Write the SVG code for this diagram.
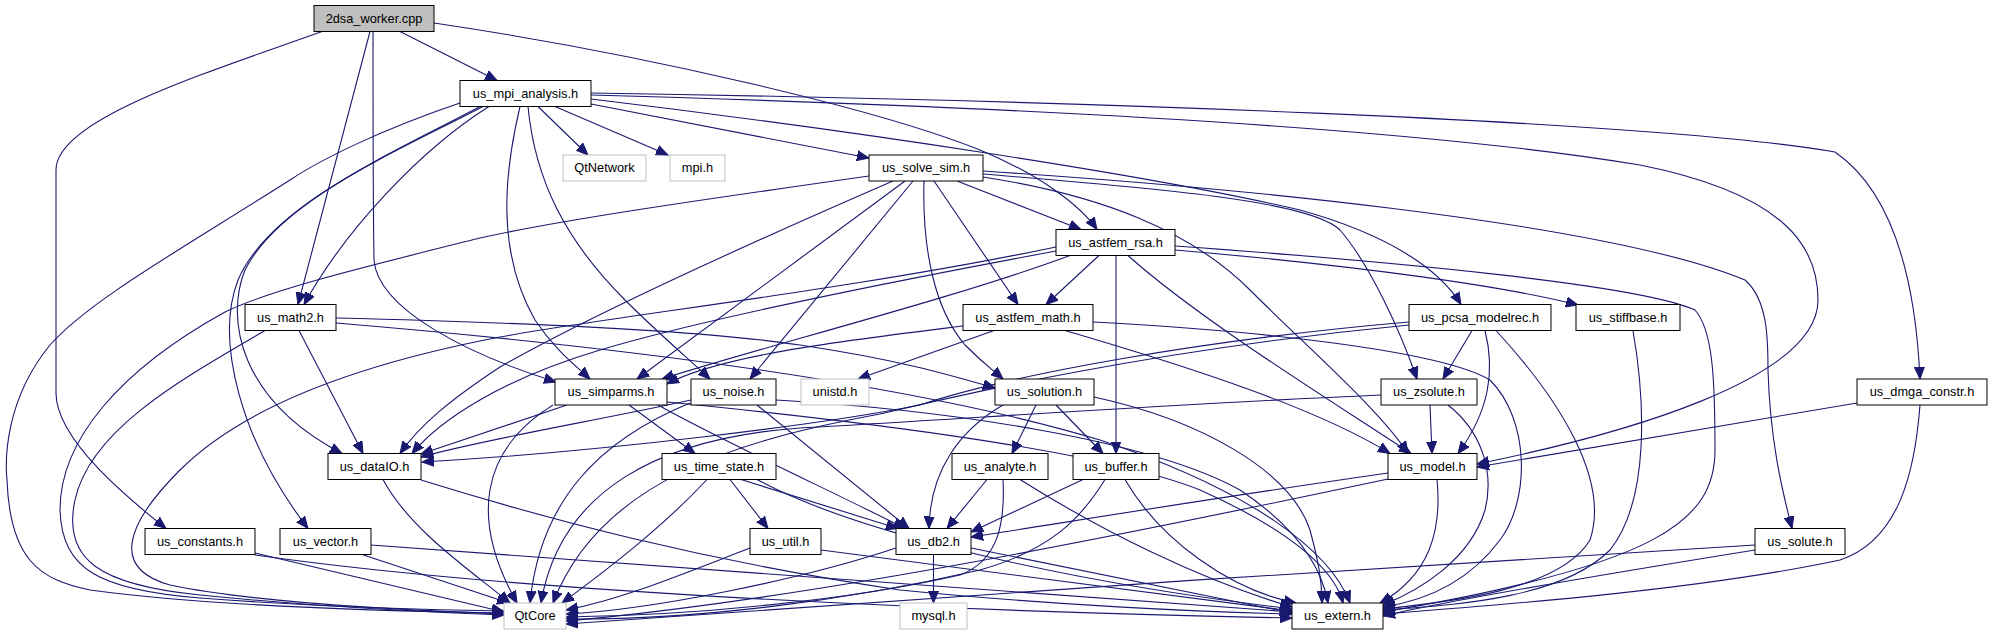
<svg xmlns="http://www.w3.org/2000/svg" width="1992" height="635" viewBox="0 0 1992 635">
<style>
.n rect{fill:#ffffff;stroke:#000000;stroke-width:1}
.n.x rect{stroke:#bfbfbf}
.n.r rect{fill:#bfbfbf}
.n text{font-family:"Liberation Sans",Arial,sans-serif;font-size:12.8px;text-anchor:middle;fill:#000000}
#edges path{fill:none;stroke:#191970;stroke-width:1.1;marker-end:url(#ah)}
</style>
<defs>
<marker id="ah" markerUnits="userSpaceOnUse" markerWidth="13" markerHeight="11" viewBox="0 0 13 11" refX="12" refY="5.5" orient="auto">
<path d="M0,0.5 L12,5.5 L0,10.5 z" fill="#191970" stroke="#191970" stroke-width="1"/>
</marker>
</defs>
<rect width="1992" height="635" fill="#ffffff"/>
<g id="edges">
<path d="M400,31.5 L497,80.5"/>
<path d="M370,31.5 L298,304.5"/>
<path d="M373,31.5 C373,110 373,200 374,260 C378,310 470,355 556,382"/>
<path d="M322,31.5 C200,75 56,120 56,170 L56,393 C56,440 130,500 166,528.5"/>
<path d="M434,23 C650,55 880,110 980,150 C1040,175 1080,205 1097,229.5"/>
<path d="M538,106.5 L588,155"/>
<path d="M555,106.5 L668,155"/>
<path d="M591,104 L869,158"/>
<path d="M489,106.5 C420,150 345,230 304,304.5"/>
<path d="M520,106.5 C505,170 495,250 535,320 C555,350 575,365 590,379"/>
<path d="M528,106.5 C535,180 565,240 625,300 C660,335 690,360 710,379"/>
<path d="M483,106.5 C400,150 280,200 245,270 C225,320 240,400 342,453.5"/>
<path d="M480,106.5 C395,152 270,205 238,280 C215,340 240,440 308,528.5"/>
<path d="M460,103 C380,130 320,160 290,180 C180,250 90,300 50,345 C5,400 5,460 7,480 C10,560 40,580 90,590 C200,605 380,611 504,613"/>
<path d="M591,99 C850,130 1150,175 1300,210 C1390,235 1440,270 1461,304.5"/>
<path d="M591,95 C950,105 1400,125 1640,165 C1790,195 1818,250 1818,300 C1818,380 1620,435 1477,464"/>
<path d="M591,93 C1050,100 1650,120 1835,152 C1890,190 1915,270 1920,379"/>
<path d="M957,181 L1081,229.5"/>
<path d="M934,181 L1018,304.5"/>
<path d="M924,181 C922,250 935,310 965,345 C985,365 995,372 1003,379"/>
<path d="M913,181 L750,379"/>
<path d="M905,181 L637,379"/>
<path d="M893,181 C780,230 600,310 500,367 C450,400 420,425 400,453.5"/>
<path d="M869,176 C700,200 560,220 480,238 C360,268 270,290 225,312 C120,370 60,440 60,510 C62,570 100,590 200,598 C320,607 430,610 504,611"/>
<path d="M983,177 C1100,195 1190,230 1250,290 C1310,350 1380,410 1408,453.5"/>
<path d="M983,174 C1150,188 1310,200 1340,230 C1370,265 1400,330 1417,379"/>
<path d="M983,171 C1200,185 1600,220 1745,280 C1768,300 1768,340 1768,370 C1770,440 1782,490 1792,528.5"/>
<path d="M1099,255.5 L1046,304.5"/>
<path d="M1116,255.5 L1116,453.5"/>
<path d="M1128,255.5 C1200,320 1330,400 1411,453.5"/>
<path d="M1175,246 C1400,262 1640,285 1695,310 C1713,330 1715,380 1715,450 C1715,520 1660,565 1383,612"/>
<path d="M1175,250 C1350,265 1500,285 1578,305"/>
<path d="M1056,247 C850,290 620,315 500,337 C380,360 250,400 180,470 C120,530 115,570 170,585 C250,602 400,610 504,614"/>
<path d="M1056,251 C900,280 700,320 600,350 C500,380 440,420 412,453.5"/>
<path d="M1070,255.5 C950,300 750,350 662,379"/>
<path d="M963,326 C850,340 720,355 667,384"/>
<path d="M994,330.5 L858,379"/>
<path d="M1065,330.5 C1200,370 1320,410 1390,453.5"/>
<path d="M1093,322 C1250,330 1440,350 1490,380 C1530,420 1530,500 1500,540 C1470,580 1430,600 1383,607"/>
<path d="M1472,330.5 L1443,379"/>
<path d="M1485,330.5 C1495,370 1490,410 1458,453.5"/>
<path d="M1496,330.5 C1560,400 1610,480 1590,540 C1560,590 1450,602 1383,609"/>
<path d="M1409,322 C1200,340 1010,375 920,405 C820,425 600,452 422,462"/>
<path d="M1409,325 C1150,350 960,395 880,414 C740,440 600,480 553,603"/>
<path d="M1430,405 L1432,453.5"/>
<path d="M1448,405 C1480,430 1495,470 1485,510 C1470,560 1420,590 1383,605"/>
<path d="M1381,395 C1150,405 950,420 800,428 C660,438 560,490 541,603"/>
<path d="M1857,403 L1477,467"/>
<path d="M1920,405 C1915,470 1900,540 1840,560 C1700,590 1500,605 1383,614"/>
<path d="M1633,330.5 C1645,400 1650,500 1610,550 C1560,600 1450,605 1383,610"/>
<path d="M1755,550 C1600,575 1450,600 1383,616"/>
<path d="M1755,545 C1400,565 900,600 566,624"/>
<path d="M1388,473 C1200,500 1050,525 971,537"/>
<path d="M1388,479 C1100,540 800,600 566,621"/>
<path d="M1437,479.5 C1442,530 1430,575 1380,603"/>
<path d="M1003,405 C960,430 930,470 929,528.5"/>
<path d="M1036,405 L1012,453.5"/>
<path d="M1056,405 L1103,453.5"/>
<path d="M1094,397 C1200,420 1290,470 1310,530 C1318,560 1322,580 1322,603"/>
<path d="M987,479.5 L947,528.5"/>
<path d="M1003,479.5 C1005,520 1000,560 960,575 C850,600 700,615 566,617"/>
<path d="M1020,479.5 C1100,530 1200,580 1292,607"/>
<path d="M1083,479.5 L971,532"/>
<path d="M1105,479.5 C1080,520 1050,550 980,570 C850,600 700,620 566,619"/>
<path d="M1125,479.5 C1160,540 1230,590 1296,603"/>
<path d="M896,548 C800,580 650,610 566,614"/>
<path d="M933.5,554.5 L933.5,603"/>
<path d="M971,548 L1292,613"/>
<path d="M707,479.5 C660,530 600,575 562,603"/>
<path d="M730,479.5 L768,528.5"/>
<path d="M741,479.5 L898,528.5"/>
<path d="M757,479.5 C850,530 1050,580 1292,609"/>
<path d="M750,548 C680,575 620,600 566,610"/>
<path d="M821,550 L1292,611"/>
<path d="M691,400 C600,420 480,440 421,457"/>
<path d="M757,405 L909,528.5"/>
<path d="M776,400 C950,410 1150,440 1240,490 C1300,530 1322,570 1328,603"/>
<path d="M690,403 C600,440 540,500 530,603"/>
<path d="M567,405 L421,454"/>
<path d="M629,405 L695,453.5"/>
<path d="M658,405 C720,440 850,500 905,528.5"/>
<path d="M667,402 C850,420 1100,450 1200,490 C1290,530 1335,570 1343,603"/>
<path d="M553,405 C480,450 470,520 517,603"/>
<path d="M299,330.5 L363,453.5"/>
<path d="M336,318 C500,322 700,330 800,345 C900,360 950,375 995,388"/>
<path d="M336,323 C600,345 900,380 1100,440 C1250,490 1330,550 1350,603"/>
<path d="M265,330.5 C180,380 90,430 75,500 C62,560 100,585 200,595 C300,605 420,612 504,615"/>
<path d="M383,479.5 C410,530 470,570 510,603"/>
<path d="M421,480 C550,520 700,560 900,590 C1050,605 1200,612 1292,614"/>
<path d="M255,553 L504,612"/>
<path d="M255,555 C500,590 900,610 1292,618"/>
<path d="M362,554.5 L509,603"/>
<path d="M371,545 C700,570 1000,590 1292,612"/>
</g>
<g id="n0" class="n r"><rect x="314" y="5.5" width="120" height="26"/><text x="374" y="22.5">2dsa_worker.cpp</text></g>
<g id="n1" class="n"><rect x="460" y="80.5" width="131" height="26"/><text x="525.5" y="97.5">us_mpi_analysis.h</text></g>
<g id="n2" class="n x"><rect x="563" y="155" width="83" height="26"/><text x="604.5" y="172">QtNetwork</text></g>
<g id="n3" class="n x"><rect x="670" y="155" width="55" height="26"/><text x="697.5" y="172">mpi.h</text></g>
<g id="n4" class="n"><rect x="869" y="155" width="114" height="26"/><text x="926" y="172">us_solve_sim.h</text></g>
<g id="n5" class="n"><rect x="1056" y="229.5" width="119" height="26"/><text x="1115.5" y="246.5">us_astfem_rsa.h</text></g>
<g id="n6" class="n"><rect x="963" y="304.5" width="130" height="26"/><text x="1028" y="321.5">us_astfem_math.h</text></g>
<g id="n7" class="n"><rect x="245" y="304.5" width="91" height="26"/><text x="290.5" y="321.5">us_math2.h</text></g>
<g id="n8" class="n"><rect x="1409" y="304.5" width="142" height="26"/><text x="1480" y="321.5">us_pcsa_modelrec.h</text></g>
<g id="n9" class="n"><rect x="1576" y="304.5" width="104" height="26"/><text x="1628" y="321.5">us_stiffbase.h</text></g>
<g id="n10" class="n"><rect x="555" y="379" width="112" height="26"/><text x="611" y="396">us_simparms.h</text></g>
<g id="n11" class="n"><rect x="691" y="379" width="85" height="26"/><text x="733.5" y="396">us_noise.h</text></g>
<g id="n12" class="n x"><rect x="801" y="379" width="68" height="26"/><text x="835" y="396">unistd.h</text></g>
<g id="n13" class="n"><rect x="995" y="379" width="99" height="26"/><text x="1044.5" y="396">us_solution.h</text></g>
<g id="n14" class="n"><rect x="1381" y="379" width="96" height="26"/><text x="1429" y="396">us_zsolute.h</text></g>
<g id="n15" class="n"><rect x="1857" y="379" width="130" height="26"/><text x="1922" y="396">us_dmga_constr.h</text></g>
<g id="n16" class="n"><rect x="328" y="453.5" width="93" height="26"/><text x="374.5" y="470.5">us_dataIO.h</text></g>
<g id="n17" class="n"><rect x="662" y="453.5" width="114" height="26"/><text x="719" y="470.5">us_time_state.h</text></g>
<g id="n18" class="n"><rect x="952" y="453.5" width="96" height="26"/><text x="1000" y="470.5">us_analyte.h</text></g>
<g id="n19" class="n"><rect x="1073" y="453.5" width="86" height="26"/><text x="1116" y="470.5">us_buffer.h</text></g>
<g id="n20" class="n"><rect x="1388" y="453.5" width="89" height="26"/><text x="1432.5" y="470.5">us_model.h</text></g>
<g id="n21" class="n"><rect x="145" y="528.5" width="110" height="26"/><text x="200" y="545.5">us_constants.h</text></g>
<g id="n22" class="n"><rect x="280" y="528.5" width="91" height="26"/><text x="325.5" y="545.5">us_vector.h</text></g>
<g id="n23" class="n"><rect x="750" y="528.5" width="71" height="26"/><text x="785.5" y="545.5">us_util.h</text></g>
<g id="n24" class="n"><rect x="896" y="528.5" width="75" height="26"/><text x="933.5" y="545.5">us_db2.h</text></g>
<g id="n25" class="n"><rect x="1755" y="528.5" width="90" height="26"/><text x="1800" y="545.5">us_solute.h</text></g>
<g id="n26" class="n x"><rect x="504" y="603" width="62" height="26"/><text x="535" y="620">QtCore</text></g>
<g id="n27" class="n x"><rect x="900" y="603" width="67" height="26"/><text x="933.5" y="620">mysql.h</text></g>
<g id="n28" class="n"><rect x="1292" y="603" width="91" height="26"/><text x="1337.5" y="620">us_extern.h</text></g>
</svg>
